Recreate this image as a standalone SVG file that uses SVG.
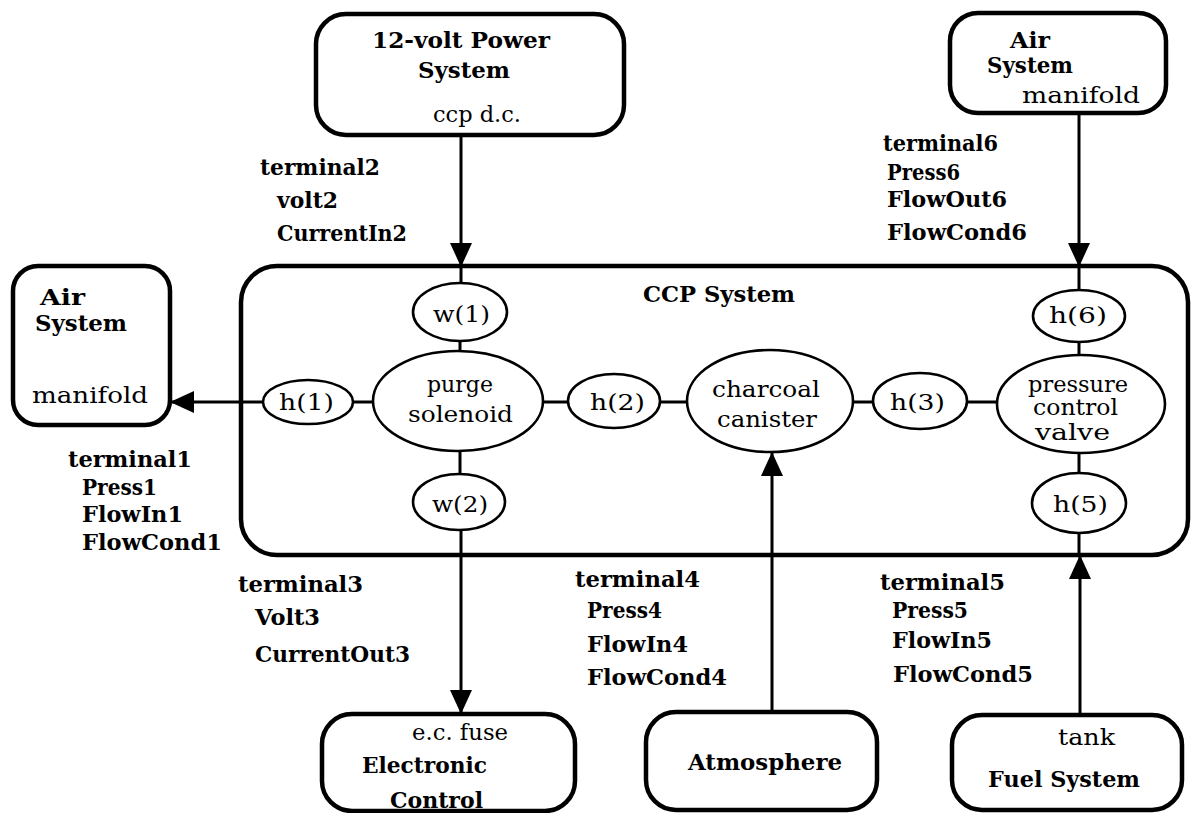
<svg xmlns="http://www.w3.org/2000/svg" width="1192" height="813" viewBox="0 0 1192 813">
<defs>
<style>
.box{fill:#fff;stroke:#000;stroke-width:4.5}
.sys{fill:none;stroke:#000;stroke-width:4.5}
.ell{fill:#fff;stroke:#000;stroke-width:2.6}
.ln{fill:none;stroke:#000;stroke-width:3}
.b{font-family:"DejaVu Serif","Liberation Serif",serif;font-weight:bold;font-size:22px;fill:#000}
.r{font-family:"DejaVu Serif","Liberation Serif",serif;font-size:22px;fill:#000}
</style>
<marker id="ah" markerUnits="userSpaceOnUse" markerWidth="26" markerHeight="24" refX="24" refY="11" orient="auto">
<path d="M0,0 L24,11 L0,22 z" fill="#000"/>
</marker>
</defs>
<rect width="1192" height="813" fill="#fff"/>

<g id="ccp-system">
<rect class="sys" x="241" y="266" width="947" height="289" rx="36"/>
<text class="b" x="643" y="302" textLength="152" lengthAdjust="spacingAndGlyphs">CCP System</text>
</g>

<g id="connectors">
<line class="ln" x1="461" y1="135" x2="461" y2="267" marker-end="url(#ah)"/>
<line class="ln" x1="461" y1="267" x2="461" y2="284"/>
<line class="ln" x1="460" y1="340" x2="460" y2="352"/>
<line class="ln" x1="460" y1="450" x2="460" y2="475"/>
<line class="ln" x1="461" y1="529" x2="461" y2="714" marker-end="url(#ah)"/>
<line class="ln" x1="264" y1="402" x2="170" y2="402" marker-end="url(#ah)"/>
<line class="ln" x1="352" y1="402" x2="374" y2="402"/>
<line class="ln" x1="542" y1="402" x2="569" y2="402"/>
<line class="ln" x1="659" y1="402" x2="688" y2="402"/>
<line class="ln" x1="852" y1="402" x2="874" y2="402"/>
<line class="ln" x1="966" y1="402" x2="998" y2="402"/>
<line class="ln" x1="1079" y1="113" x2="1079" y2="267" marker-end="url(#ah)"/>
<line class="ln" x1="1079" y1="267" x2="1079" y2="291"/>
<line class="ln" x1="1079" y1="341" x2="1079" y2="356"/>
<line class="ln" x1="1079" y1="452" x2="1079" y2="474"/>
<line class="ln" x1="1079" y1="532" x2="1079" y2="556"/>
<line class="ln" x1="1080" y1="715" x2="1080" y2="555" marker-end="url(#ah)"/>
<line class="ln" x1="772" y1="712" x2="772" y2="452" marker-end="url(#ah)"/>
</g>

<g id="power-system">
<rect class="box" x="316" y="14" width="308" height="121" rx="30"/>
<text class="b" x="372" y="48" textLength="178" lengthAdjust="spacingAndGlyphs">12-volt Power</text>
<text class="b" x="418" y="78" textLength="92" lengthAdjust="spacingAndGlyphs">System</text>
<text class="r" x="433" y="122" textLength="88" lengthAdjust="spacingAndGlyphs">ccp d.c.</text>
</g>

<g id="air-system-top">
<rect class="box" x="950" y="13" width="216" height="100" rx="28"/>
<text class="b" x="1010" y="48" textLength="40" lengthAdjust="spacingAndGlyphs">Air</text>
<text class="b" x="987" y="73" textLength="86" lengthAdjust="spacingAndGlyphs">System</text>
<text class="r" x="1022" y="103" textLength="118" lengthAdjust="spacingAndGlyphs">manifold</text>
</g>

<g id="air-system-left">
<rect class="box" x="13" y="266" width="157" height="159" rx="25"/>
<text class="b" x="40" y="305" textLength="45" lengthAdjust="spacingAndGlyphs">Air</text>
<text class="b" x="35" y="331" textLength="92" lengthAdjust="spacingAndGlyphs">System</text>
<text class="r" x="32" y="403" textLength="116" lengthAdjust="spacingAndGlyphs">manifold</text>
</g>

<g id="electronic-control">
<rect class="box" x="322" y="714" width="253" height="97" rx="30"/>
<text class="r" x="412" y="740" textLength="96" lengthAdjust="spacingAndGlyphs">e.c. fuse</text>
<text class="b" x="362" y="773" textLength="125" lengthAdjust="spacingAndGlyphs">Electronic</text>
<text class="b" x="390" y="808" textLength="93" lengthAdjust="spacingAndGlyphs">Control</text>
</g>

<g id="atmosphere">
<rect class="box" x="646" y="712" width="231" height="98" rx="30"/>
<text class="b" x="688" y="770" textLength="154" lengthAdjust="spacingAndGlyphs">Atmosphere</text>
</g>

<g id="fuel-system">
<rect class="box" x="952" y="715" width="230" height="95" rx="30"/>
<text class="r" x="1058" y="745" textLength="57" lengthAdjust="spacingAndGlyphs">tank</text>
<text class="b" x="988" y="787" textLength="152" lengthAdjust="spacingAndGlyphs">Fuel System</text>
</g>

<g id="w1">
<ellipse class="ell" cx="460" cy="312" rx="47" ry="29"/>
<text class="r" x="433" y="322" textLength="57" lengthAdjust="spacingAndGlyphs">w(1)</text>
</g>
<g id="purge-solenoid">
<ellipse class="ell" cx="458" cy="401" rx="85" ry="50"/>
<text class="r" x="427" y="392" textLength="66" lengthAdjust="spacingAndGlyphs">purge</text>
<text class="r" x="408" y="422" textLength="105" lengthAdjust="spacingAndGlyphs">solenoid</text>
</g>
<g id="w2">
<ellipse class="ell" cx="459" cy="502" rx="46" ry="28"/>
<text class="r" x="432" y="512" textLength="56" lengthAdjust="spacingAndGlyphs">w(2)</text>
</g>
<g id="h1">
<ellipse class="ell" cx="308" cy="402" rx="45" ry="22"/>
<text class="r" x="279" y="410" textLength="55" lengthAdjust="spacingAndGlyphs">h(1)</text>
</g>
<g id="h2">
<ellipse class="ell" cx="614" cy="401" rx="46" ry="27"/>
<text class="r" x="590" y="410" textLength="55" lengthAdjust="spacingAndGlyphs">h(2)</text>
</g>
<g id="charcoal-canister">
<ellipse class="ell" cx="770" cy="401" rx="83" ry="51"/>
<text class="r" x="712" y="397" textLength="108" lengthAdjust="spacingAndGlyphs">charcoal</text>
<text class="r" x="717" y="427" textLength="100" lengthAdjust="spacingAndGlyphs">canister</text>
</g>
<g id="h3">
<ellipse class="ell" cx="920" cy="401" rx="47" ry="28"/>
<text class="r" x="890" y="410" textLength="55" lengthAdjust="spacingAndGlyphs">h(3)</text>
</g>
<g id="pressure-control-valve">
<ellipse class="ell" cx="1081" cy="404" rx="84" ry="49"/>
<text class="r" x="1028" y="392" textLength="100" lengthAdjust="spacingAndGlyphs">pressure</text>
<text class="r" x="1033" y="415" textLength="85" lengthAdjust="spacingAndGlyphs">control</text>
<text class="r" x="1035" y="440" textLength="75" lengthAdjust="spacingAndGlyphs">valve</text>
</g>
<g id="h6">
<ellipse class="ell" cx="1079" cy="316" rx="46" ry="26"/>
<text class="r" x="1049" y="323" textLength="58" lengthAdjust="spacingAndGlyphs">h(6)</text>
</g>
<g id="h5">
<ellipse class="ell" cx="1079" cy="503" rx="47" ry="30"/>
<text class="r" x="1053" y="512" textLength="55" lengthAdjust="spacingAndGlyphs">h(5)</text>
</g>

<g id="labels">
<text class="b" x="260" y="175" textLength="120" lengthAdjust="spacingAndGlyphs">terminal2</text>
<text class="b" x="277" y="208" textLength="61" lengthAdjust="spacingAndGlyphs">volt2</text>
<text class="b" x="277" y="241" textLength="130" lengthAdjust="spacingAndGlyphs">CurrentIn2</text>

<text class="b" x="883" y="151" textLength="115" lengthAdjust="spacingAndGlyphs">terminal6</text>
<text class="b" x="887" y="180" textLength="73" lengthAdjust="spacingAndGlyphs">Press6</text>
<text class="b" x="887" y="207" textLength="120" lengthAdjust="spacingAndGlyphs">FlowOut6</text>
<text class="b" x="887" y="240" textLength="140" lengthAdjust="spacingAndGlyphs">FlowCond6</text>

<text class="b" x="68" y="467" textLength="124" lengthAdjust="spacingAndGlyphs">terminal1</text>
<text class="b" x="82" y="495" textLength="75" lengthAdjust="spacingAndGlyphs">Press1</text>
<text class="b" x="82" y="522" textLength="101" lengthAdjust="spacingAndGlyphs">FlowIn1</text>
<text class="b" x="82" y="550" textLength="140" lengthAdjust="spacingAndGlyphs">FlowCond1</text>

<text class="b" x="238" y="592" textLength="125" lengthAdjust="spacingAndGlyphs">terminal3</text>
<text class="b" x="255" y="625" textLength="65" lengthAdjust="spacingAndGlyphs">Volt3</text>
<text class="b" x="255" y="662" textLength="155" lengthAdjust="spacingAndGlyphs">CurrentOut3</text>

<text class="b" x="575" y="587" textLength="125" lengthAdjust="spacingAndGlyphs">terminal4</text>
<text class="b" x="587" y="618" textLength="75" lengthAdjust="spacingAndGlyphs">Press4</text>
<text class="b" x="587" y="652" textLength="101" lengthAdjust="spacingAndGlyphs">FlowIn4</text>
<text class="b" x="587" y="685" textLength="140" lengthAdjust="spacingAndGlyphs">FlowCond4</text>

<text class="b" x="880" y="590" textLength="125" lengthAdjust="spacingAndGlyphs">terminal5</text>
<text class="b" x="892" y="618" textLength="76" lengthAdjust="spacingAndGlyphs">Press5</text>
<text class="b" x="892" y="648" textLength="100" lengthAdjust="spacingAndGlyphs">FlowIn5</text>
<text class="b" x="893" y="682" textLength="140" lengthAdjust="spacingAndGlyphs">FlowCond5</text>
</g>
</svg>
